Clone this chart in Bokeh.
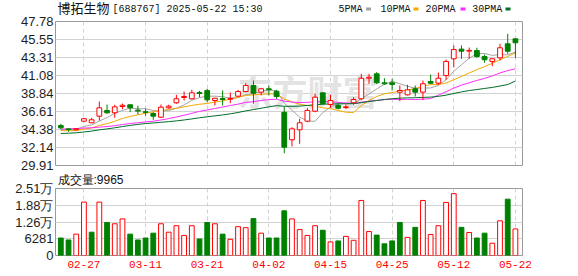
import numpy as np
import pandas as pd
from bokeh.plotting import figure
from bokeh.layouts import column
from bokeh.models import (ColumnDataSource, FixedTicker, Range1d, Label, Grid,
                          PrintfTickFormatter)
from bokeh.core.properties import value
from bokeh.embed import file_html
from bokeh.resources import INLINE

# ---------------- data ----------------
dates = ["02-24", "02-25", "02-26", "02-27", "02-28", "03-03", "03-04", "03-05", "03-06", "03-07",
         "03-10", "03-11", "03-12", "03-13", "03-14", "03-17", "03-18", "03-19", "03-20", "03-21",
         "03-24", "03-25", "03-26", "03-27", "03-28", "03-31", "04-01", "04-02", "04-03", "04-07",
         "04-08", "04-09", "04-10", "04-11", "04-14", "04-15", "04-16", "04-17", "04-18", "04-21",
         "04-22", "04-23", "04-24", "04-25", "04-28", "04-29", "04-30", "05-06", "05-07", "05-08",
         "05-09", "05-12", "05-13", "05-14", "05-15", "05-16", "05-19", "05-20", "05-21", "05-22"]

open_ = [34.87, 34.45, 34.35, 35.41, 35.21, 36.03, 36.74, 36.45, 37.23, 37.44,
         36.78, 36.58, 36.36, 35.90, 37.07, 37.69, 38.35, 38.19, 38.97, 39.22,
         37.98, 38.22, 38.14, 38.51, 39.09, 39.84, 39.01, 39.43, 39.13, 36.52,
         33.10, 34.34, 35.41, 36.65, 38.93, 37.48, 37.36, 37.10, 37.69, 38.19,
         40.74, 41.29, 40.17, 40.17, 39.01, 38.68, 39.43, 39.01, 40.34, 40.12,
         41.08, 43.15, 44.35, 44.10, 44.18, 43.44, 42.82, 43.27, 45.01, 45.63]
high = [35.08, 34.50, 34.50, 35.83, 35.83, 37.85, 37.48, 37.44, 37.60, 37.48,
        37.32, 36.95, 36.53, 37.48, 37.44, 38.68, 39.09, 39.30, 39.18, 39.43,
        38.30, 39.22, 38.97, 39.30, 40.12, 40.46, 39.55, 39.84, 39.30, 37.23,
        34.66, 35.71, 37.07, 38.81, 38.93, 38.68, 37.69, 37.48, 38.39, 41.29,
        41.29, 41.50, 40.74, 40.67, 39.84, 39.92, 39.84, 40.46, 41.20, 41.45,
        43.06, 44.80, 44.80, 44.55, 44.52, 43.69, 43.23, 45.01, 46.25, 45.63]
low = [34.41, 34.10, 34.25, 35.28, 35.18, 35.49, 36.33, 35.83, 36.90, 36.53,
       36.24, 36.08, 35.58, 35.83, 36.95, 37.57, 37.98, 38.10, 38.39, 37.77,
       37.36, 37.36, 37.65, 38.39, 39.00, 37.57, 38.60, 38.60, 38.19, 31.43,
       32.27, 32.60, 35.28, 36.52, 37.49, 37.07, 36.86, 36.90, 37.44, 38.06,
       40.05, 40.00, 39.92, 39.22, 37.89, 38.60, 38.47, 38.06, 40.05, 39.92,
       40.54, 42.11, 43.15, 43.15, 43.27, 42.65, 42.23, 42.94, 43.77, 43.27]
close = [34.59, 34.38, 34.45, 35.71, 35.58, 37.07, 36.45, 37.19, 37.39, 37.07,
         36.66, 36.50, 36.03, 37.15, 37.27, 38.19, 38.47, 38.93, 38.85, 38.06,
         38.26, 38.10, 38.22, 39.09, 39.84, 38.88, 39.43, 39.30, 38.47, 32.18,
         34.46, 35.21, 36.74, 38.39, 37.57, 37.98, 37.02, 37.19, 38.10, 40.74,
         40.87, 40.17, 40.05, 39.97, 39.22, 39.30, 39.01, 40.05, 40.12, 40.74,
         42.82, 44.30, 44.10, 44.19, 43.44, 43.03, 43.15, 44.52, 44.09, 45.14]
volume = [6556, 5828, 8012, 20030, 8741, 20030, 12382, 11897, 13718, 8012,
          5828, 6556, 8377, 11897, 8741, 11169, 7527, 11169, 6191, 12382,
          11897, 8012, 6070, 10805, 10440, 13840, 8377, 6556, 6556, 16753,
          13718, 9712, 7527, 11169, 9469, 5099, 5463, 7163, 5706, 20638,
          8984, 7648, 4370, 5463, 12382, 6798, 10562, 20638, 7891, 11169,
          19910, 23187, 10562, 8619, 6556, 8377, 4613, 12990, 21123, 9965]
# closes of the 29 sessions before the window (only used for the moving averages)
prior_close = [33.2, 33.0, 32.6, 32.4, 32.5, 32.8, 33.0, 32.9, 32.7, 32.9,
               33.4, 33.9, 34.5, 35.0, 35.3, 35.1, 34.9, 34.6, 34.5, 34.8,
               34.5, 34.3, 34.0, 33.9, 34.1, 34.2, 34.3, 33.8, 34.7]

price_ticks = [29.91, 32.14, 34.38, 36.61, 38.84, 41.08, 43.31, 45.55, 47.78]
vol_ticks = [0, 6281, 12562, 18843, 25124]
vol_tick_labels = ["0", "6281", "1.26万", "1.88万", "2.51万"]
date_tick_idx = [3, 11, 19, 27, 35, 43, 51, 59]
ma_periods = [5, 10, 20, 30]
ma_names = ["5PMA", "10PMA", "20PMA", "30PMA"]
stock_name = "博拓生物"
stock_info = "[688767] 2025-05-22 15:30"

# ---------------- styles ----------------
RED = "#ff0000"
GREEN = "#008000"
MA_COLORS = ["#a3a3a3", "#f2a900", "#ff2bff", "#006e2b"]
FRAME = "#9a9a9a"
GRIDC = "#d2d2d2"
TXT = "#111111"
X_RANGE = (-0.69, 59.92)
LEFT, RIGHT = 55, 56

n = len(close)
idx = list(range(n))

all_close = pd.Series(prior_close + close)
ma_vals = [all_close.rolling(k).mean().to_numpy()[len(prior_close):] for k in ma_periods]

up = [c >= o for o, c in zip(open_, close)]
top = [max(o, c) for o, c in zip(open_, close)]
bot = [min(o, c) for o, c in zip(open_, close)]
bot = [b if t - b > 0.06 else t - 0.06 for t, b in zip(top, bot)]

def sel(lst, flags, want):
    return [v for v, f in zip(lst, flags) if f == want]

src_up = ColumnDataSource(dict(x=sel(idx, up, True), hi=sel(high, up, True), lo=sel(low, up, True),
                               top=sel(top, up, True), bot=sel(bot, up, True)))
src_dn = ColumnDataSource(dict(x=sel(idx, up, False), hi=sel(high, up, False), lo=sel(low, up, False),
                               top=sel(top, up, False), bot=sel(bot, up, False)))

prev = [prior_close[-1]] + close[:-1]
vup = [c >= pc for c, pc in zip(close, prev)]
vsrc_up = ColumnDataSource(dict(x=sel(idx, vup, True), v=sel(volume, vup, True)))
vsrc_dn = ColumnDataSource(dict(x=sel(idx, vup, False), v=sel(volume, vup, False)))

xr = Range1d(*X_RANGE)

# ---------------- header strip (title + legend), frame aligned with the panels ----------------
HH = 15
h = figure(width=578, height=HH, x_range=Range1d(LEFT, 578 - RIGHT), y_range=Range1d(HH, 0),
           output_backend="svg", toolbar_location=None, x_axis_location=None,
           y_axis_location=None, title=None,
           min_border_left=LEFT, min_border_right=RIGHT, min_border_top=0, min_border_bottom=0)
h.outline_line_color = None
h.xgrid.visible = False
h.ygrid.visible = False
h.background_fill_color = "white"
h.border_fill_color = "white"
h.text(x=[57], y=[8], text=[stock_name],
       text_font=value("Liberation Sans, Noto Sans CJK SC"),
       text_font_size="13px", text_color=TXT, text_baseline="middle", text_align="left")
h.text(x=[112], y=[8.5], text=[stock_info], text_font=value("Liberation Mono"),
       text_font_size="10px", text_color=TXT, text_baseline="middle", text_align="left")
leg_text_x = [338, 380, 425, 471.7]
leg_box_x = [368, 415.5, 462.5, 507.5]
h.text(x=leg_text_x, y=[8.5] * 4, text=ma_names, text_font=value("Liberation Mono"),
       text_font_size="10px", text_color=TXT, text_baseline="middle", text_align="left")
h.rect(x=leg_box_x, y=[8.5] * 4, width=5, height=3, fill_color=MA_COLORS, line_color=None)

# ---------------- price panel ----------------
p = figure(width=578, height=157, x_range=xr, y_range=Range1d(price_ticks[0], price_ticks[-1]),
           output_backend="svg", toolbar_location=None, x_axis_location=None, title=None,
           min_border_left=LEFT, min_border_right=RIGHT, min_border_top=6, min_border_bottom=7)
p.outline_line_color = FRAME
p.outline_line_width = 1
p.background_fill_color = "white"
p.border_fill_color = "white"

p.yaxis.ticker = FixedTicker(ticks=price_ticks)
p.yaxis.formatter = PrintfTickFormatter(format="%.2f")
p.yaxis.axis_line_color = None
p.yaxis.major_tick_line_color = None
p.yaxis.minor_tick_line_color = None
p.yaxis.major_tick_out = 0
p.yaxis.major_label_standoff = 2
p.yaxis.major_label_text_font = "Liberation Sans"
p.yaxis.major_label_text_font_size = "13px"
p.yaxis.major_label_text_color = "#1e1e1e"
p.ygrid.grid_line_color = GRIDC
p.xgrid.visible = False
p.add_layout(Grid(dimension=0, ticker=FixedTicker(ticks=date_tick_idx),
                  grid_line_color=GRIDC, grid_line_dash="4 3"))

wm = Label(x=182, y=75, x_units="screen", y_units="screen", text="东方财富",
           text_font="Noto Sans CJK SC", text_font_size="35px", text_font_style="bold",
           text_color="#e3e3e3", text_baseline="middle", level="underlay")
p.add_layout(wm)

for vals, col in zip(ma_vals, MA_COLORS):
    p.line(idx, vals, line_color=col, line_width=1)

W = 0.62
p.segment(x0="x", y0="lo", x1="x", y1="hi", source=src_up, line_color=RED, line_width=1)
p.segment(x0="x", y0="lo", x1="x", y1="hi", source=src_dn, line_color=GREEN, line_width=1)
p.vbar(x="x", top="top", bottom="bot", width=W, source=src_up,
       fill_color="white", line_color=RED, line_width=1)
p.vbar(x="x", top="top", bottom="bot", width=W, source=src_dn,
       fill_color=GREEN, line_color=GREEN, line_width=1)

# ---------------- volume panel ----------------
v = figure(width=578, height=104, x_range=xr, y_range=Range1d(vol_ticks[0], vol_ticks[-1]),
           output_backend="svg", toolbar_location=None, title="成交量:" + str(volume[-1]),
           min_border_left=LEFT, min_border_right=RIGHT, min_border_top=14, min_border_bottom=21)
v.title.align = "left"
v.title.vertical_align = "top"
v.title.offset = 2
v.title.standoff = 0
v.title.text_font = "Liberation Sans"
v.title.text_font_size = "12px"
v.title.text_font_style = "normal"
v.title.text_color = TXT
v.outline_line_color = FRAME
v.outline_line_width = 1
v.background_fill_color = "white"
v.border_fill_color = "white"

v.yaxis.ticker = FixedTicker(ticks=vol_ticks)
v.yaxis.major_label_overrides = {t: s for t, s in zip(vol_ticks, vol_tick_labels)}
v.yaxis.axis_line_color = None
v.yaxis.major_tick_line_color = None
v.yaxis.minor_tick_line_color = None
v.yaxis.major_tick_out = 0
v.yaxis.major_label_standoff = 2
v.yaxis.major_label_text_font = "Liberation Sans"
v.yaxis.major_label_text_font_size = "13px"
v.yaxis.major_label_text_color = "#1e1e1e"
v.ygrid.grid_line_color = GRIDC

v.xaxis.ticker = FixedTicker(ticks=date_tick_idx)
v.xaxis.major_label_overrides = {i: dates[i] for i in date_tick_idx}
v.xaxis.axis_line_color = None
v.xaxis.major_tick_line_color = None
v.xaxis.minor_tick_line_color = None
v.xaxis.major_tick_out = 0
v.xaxis.major_label_standoff = 5
v.xaxis.major_label_text_font = "Liberation Mono"
v.xaxis.major_label_text_font_size = "11px"
v.xaxis.major_label_text_color = RED
v.xgrid.grid_line_color = GRIDC
v.xgrid.grid_line_dash = "4 3"

v.vbar(x="x", top="v", bottom=0, width=W, source=vsrc_up,
       fill_color="white", line_color=RED, line_width=1)
v.vbar(x="x", top="v", bottom=0, width=W, source=vsrc_dn,
       fill_color=GREEN, line_color=GREEN, line_width=1)

layout = column(h, p, v, spacing=0)
open("out.html", "w").write(file_html(layout, INLINE))
